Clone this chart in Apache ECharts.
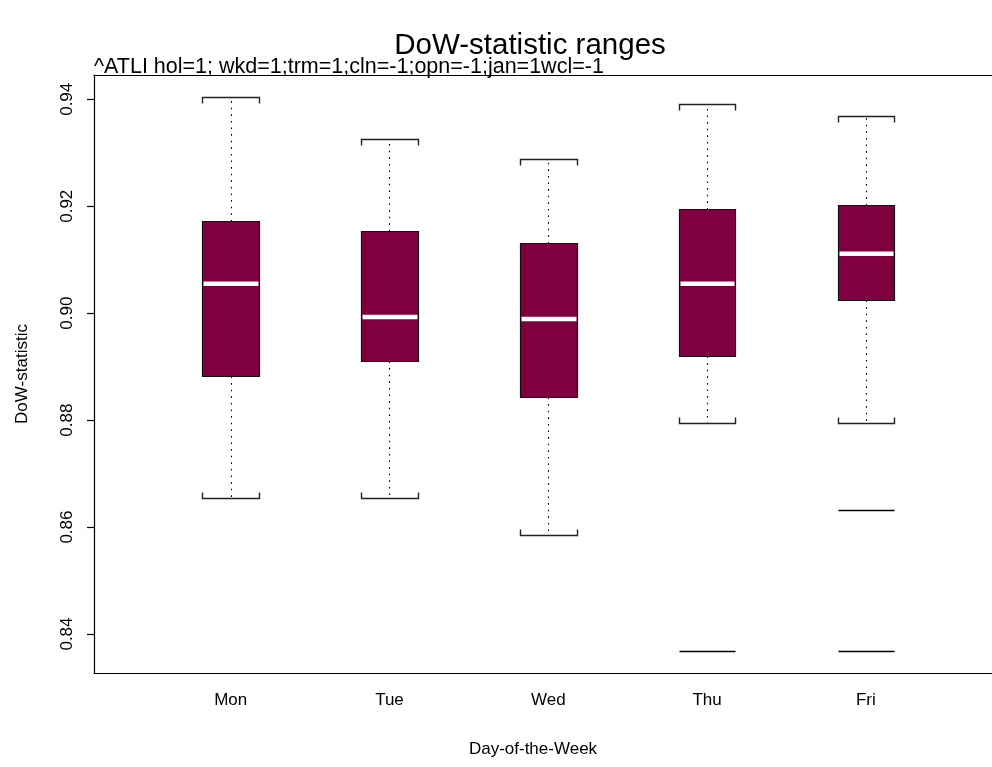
<!DOCTYPE html>
<html>
<head>
<meta charset="utf-8">
<script src="https://cdn.jsdelivr.net/npm/echarts@6/dist/echarts.min.js"></script>
<style>
html,body{margin:0;padding:0;background:#fff;}
#c{width:992px;height:767px;}
</style>
</head>
<body>
<div id="c"></div>
<script>
// ---- data ----
const days = ['Mon', 'Tue', 'Wed', 'Thu', 'Fri'];
const lowerWhisker = [0.8654, 0.8654, 0.8585, 0.8794, 0.8794];
const q1 = [0.8882, 0.8910, 0.8843, 0.8920, 0.9024];
const median = [0.9055, 0.8993, 0.8989, 0.9055, 0.9111];
const q3 = [0.9173, 0.9153, 0.9132, 0.9195, 0.9202];
const upperWhisker = [0.9405, 0.9326, 0.9288, 0.9391, 0.9368];
const outlierDay = ['Thu', 'Fri', 'Fri'];
const outlierValue = [0.8368, 0.8631, 0.8368];
const yTicks = [0.84, 0.86, 0.88, 0.90, 0.92, 0.94];

const titleText = 'DoW-statistic ranges';
const subtitleText = '^ATLI hol=1; wkd=1;trm=1;cln=-1;opn=-1;jan=1wcl=-1';
const xName = 'Day-of-the-Week';
const yName = 'DoW-statistic';

// ---- styling constants ----
const FONT = '"Liberation Sans", Arial, Helvetica, sans-serif';
const BOX_W = 0.356;
const BOX_FILL = '#80003f';
const X_MIN = 0.1392, X_MAX = 5.7941;
const Y_MIN = 0.83271, Y_MAX = 0.94454;

const boxData = days.map((d, i) => [i + 1, lowerWhisker[i], q1[i], median[i], q3[i], upperWhisker[i]]);
const outData = outlierDay.map((d, i) => [days.indexOf(d) + 1, outlierValue[i]]);

const snap = v => Math.round(v) + 0.5;

function renderBox(params, api) {
  const x = api.value(0);
  const lo = api.value(1), a = api.value(2), md = api.value(3), b = api.value(4), hi = api.value(5);
  const l = Math.round(api.coord([x - BOX_W / 2, md])[0]) + 0.5;
  const r = Math.round(api.coord([x + BOX_W / 2, md])[0]) + 0.5;
  const cx = snap(api.coord([x, md])[0]);
  const yLo = snap(api.coord([x, lo])[1]);
  const yQ1 = snap(api.coord([x, a])[1]);
  const yMd = api.coord([x, md])[1];
  const yQ3 = snap(api.coord([x, b])[1]);
  const yHi = snap(api.coord([x, hi])[1]);
  const dash = { stroke: '#000', lineWidth: 1.1, lineDash: [1.6, 5] };
  const cap = { stroke: '#222', lineWidth: 1.4, fill: null };
  return {
    type: 'group',
    children: [
      { type: 'line', shape: { x1: cx, y1: yQ3, x2: cx, y2: yHi }, style: dash },
      { type: 'line', shape: { x1: cx, y1: yQ1, x2: cx, y2: yLo }, style: dash },
      { type: 'polyline', shape: { points: [[l, yHi + 6], [l, yHi], [r, yHi], [r, yHi + 6]] }, style: cap },
      { type: 'polyline', shape: { points: [[l, yLo - 6], [l, yLo], [r, yLo], [r, yLo - 6]] }, style: cap },
      { type: 'rect', shape: { x: l, y: yQ3, width: r - l, height: yQ1 - yQ3 },
        style: { fill: BOX_FILL, stroke: '#111', lineWidth: 1.2 } },
      { type: 'line', shape: { x1: l + 1, y1: yMd, x2: r - 1, y2: yMd },
        style: { stroke: '#fff', lineWidth: 4.5 } }
    ]
  };
}

function renderOutlier(params, api) {
  const x = api.value(0), v = api.value(1);
  const l = Math.round(api.coord([x - BOX_W / 2, v])[0]) + 0.5;
  const r = Math.round(api.coord([x + BOX_W / 2, v])[0]) + 0.5;
  const y = snap(api.coord([x, v])[1]);
  return { type: 'line', shape: { x1: l, y1: y, x2: r, y2: y }, style: { stroke: '#000', lineWidth: 1.3 } };
}

const frameLine = { show: true, onZero: false, lineStyle: { color: '#000', width: 1.2 } };

const chart = echarts.init(document.getElementById('c'));
chart.setOption({
  animation: false,
  backgroundColor: '#fff',
  grid: { left: 94, top: 75, right: 0, bottom: 94 },
  xAxis: [{
    type: 'value', min: X_MIN, max: X_MAX, position: 'bottom',
    axisLine: frameLine, axisTick: { show: false }, splitLine: { show: false },
    axisLabel: {
      customValues: [1, 2, 3, 4, 5],
      formatter: v => days[Math.round(v) - 1] || '',
      color: '#000', fontSize: 17, fontFamily: FONT, margin: 19
    }
  }, {
    type: 'value', min: X_MIN, max: X_MAX, position: 'top',
    axisLine: frameLine, axisTick: { show: false }, splitLine: { show: false },
    axisLabel: { show: false }
  }],
  yAxis: {
    type: 'value', min: Y_MIN, max: Y_MAX,
    axisLine: frameLine, splitLine: { show: false },
    axisTick: { show: true, customValues: yTicks, length: 7, lineStyle: { color: '#000', width: 1.2 } },
    axisLabel: {
      customValues: yTicks, rotate: 90,
      formatter: v => v.toFixed(2),
      color: '#000', fontSize: 17, fontFamily: FONT, margin: 18
    },
    name: yName, nameLocation: 'middle', nameRotate: 90, nameGap: 63,
    nameTextStyle: { color: '#000', fontSize: 17, fontFamily: FONT }
  },
  graphic: [
    { type: 'text', x: 530, y: 46, style: { text: titleText, fill: '#000', font: '29.5px ' + FONT, textAlign: 'center', textVerticalAlign: 'middle' } },
    { type: 'text', x: 94, y: 67.5, style: { text: subtitleText, fill: '#000', font: '21.5px ' + FONT, textAlign: 'left', textVerticalAlign: 'middle' } },
    { type: 'text', x: 533, y: 749, style: { text: xName, fill: '#000', font: '17px ' + FONT, textAlign: 'center', textVerticalAlign: 'middle' } }
  ],
  series: [
    { type: 'custom', renderItem: renderBox, data: boxData, encode: { x: 0, y: [1, 2, 3, 4, 5] }, z: 3 },
    { type: 'custom', renderItem: renderOutlier, data: outData, encode: { x: 0, y: 1 }, z: 3 }
  ]
});
</script>
</body>
</html>
